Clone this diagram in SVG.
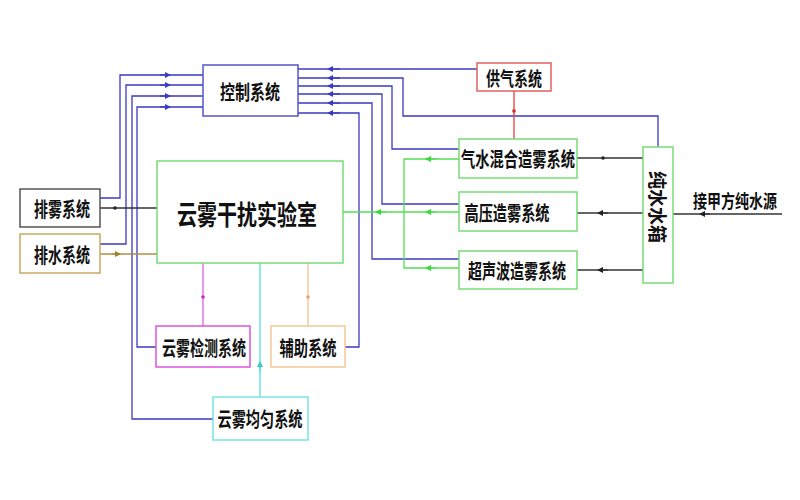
<svg xmlns="http://www.w3.org/2000/svg" width="800" height="500" viewBox="0 0 800 500">
<defs>
<marker id="ab" viewBox="0 0 6 6" refX="3" refY="3" markerWidth="6" markerHeight="6" orient="auto" markerUnits="userSpaceOnUse"><path d="M0,0 L6,3 L0,6 z" fill="#3a3ac0"/></marker>
<marker id="ag" viewBox="0 0 6 6" refX="3" refY="3" markerWidth="6" markerHeight="6" orient="auto" markerUnits="userSpaceOnUse"><path d="M0,0 L6,3 L0,6 z" fill="#33dd33"/></marker>
<marker id="ak" viewBox="0 0 6 6" refX="3" refY="3" markerWidth="6" markerHeight="6" orient="auto" markerUnits="userSpaceOnUse"><path d="M0,0 L6,3 L0,6 z" fill="#222"/></marker>
<marker id="at" viewBox="0 0 6 6" refX="3" refY="3" markerWidth="6" markerHeight="6" orient="auto" markerUnits="userSpaceOnUse"><path d="M0,0 L6,3 L0,6 z" fill="#a08030"/></marker>
<marker id="ac" viewBox="0 0 6 6" refX="3" refY="3" markerWidth="6" markerHeight="6" orient="auto" markerUnits="userSpaceOnUse"><path d="M0,0 L6,3 L0,6 z" fill="#33cccc"/></marker>
</defs>
<style>
text{font-family:"Noto Sans CJK SC","Noto Sans",sans-serif;font-weight:bold;fill:#111;text-anchor:middle;dominant-baseline:central}
.box{fill:#fff;stroke-width:1.5}
.bl{fill:none;stroke:#3a3ac0;stroke-width:1.3}
.gr{fill:none;stroke:#55dd55;stroke-width:1.3}
.bk{fill:none;stroke:#333;stroke-width:1.3}
</style>
<rect width="800" height="500" fill="#fff"/>
<g id="connectors">
<path class="bl" d="M100,198 H120 V75 H203" />
<path class="bl" d="M100,244 H126 V85 H203" />
<path class="bl" d="M213,419 H132 V96 H203" />
<path class="bl" d="M156,347 H137 V107 H203" />
<path class="bl" d="M160,75 H168" marker-end="url(#ab)"/>
<path class="bl" d="M160,85 H168" marker-end="url(#ab)"/>
<path class="bl" d="M160,96 H168" marker-end="url(#ab)"/>
<path class="bl" d="M160,107 H168" marker-end="url(#ab)"/>
<path class="bl" d="M477,69 H298" />
<path class="bl" d="M658,147 V116 H403 V78 H298" />
<path class="bl" d="M459,149 H392 V86 H298" />
<path class="bl" d="M459,204 H382 V94 H298" />
<path class="bl" d="M459,259 H372 V103 H298" />
<path class="bl" d="M345,347 H359 V113 H298" />
<path class="bl" d="M340,69 H330" marker-end="url(#ab)"/>
<path class="bl" d="M340,78 H330" marker-end="url(#ab)"/>
<path class="bl" d="M340,86 H330" marker-end="url(#ab)"/>
<path class="bl" d="M340,94 H330" marker-end="url(#ab)"/>
<path class="bl" d="M340,103 H330" marker-end="url(#ab)"/>
<path class="bl" d="M340,113 H330" marker-end="url(#ab)"/>
<path d="M514,91 V139" stroke="#e04040" stroke-width="1.3" fill="none"/>
<circle cx="514" cy="111" r="1.8" fill="#e02020"/>
<path class="gr" d="M459,159 H404 V268 H459" />
<path class="gr" d="M459,212 H343" />
<path class="gr" d="M436,159 H428" marker-end="url(#ag)"/>
<path class="gr" d="M436,212 H428" marker-end="url(#ag)"/>
<path class="gr" d="M436,268 H428" marker-end="url(#ag)"/>
<path class="gr" d="M386,212 H378" marker-end="url(#ag)"/>
<path class="bk" d="M643,158 H577" />
<path class="bk" d="M643,213 H577" />
<path class="bk" d="M643,270 H577" />
<circle cx="603" cy="158" r="1.8" fill="#222"/>
<path class="bk" d="M608,213 H600" marker-end="url(#ak)"/>
<path class="bk" d="M608,270 H600" marker-end="url(#ak)"/>
<path class="bk" d="M673,214 H782" />
<path class="bk" d="M710,214 H702" marker-end="url(#ak)"/>
<path class="bk" d="M100,208 H157" />
<circle cx="115" cy="208" r="1.8" fill="#222"/>
<path d="M100,254 H157" stroke="#b09040" stroke-width="1.3" fill="none"/>
<path d="M112,254 H118" stroke="#b09040" stroke-width="1.3" marker-end="url(#at)"/>
<path d="M203,263 V326" stroke="#e060e0" stroke-width="1.3" fill="none"/>
<circle cx="203" cy="297" r="1.8" fill="#d020d0"/>
<path d="M308,263 V326" stroke="#f5c090" stroke-width="1.3" fill="none"/>
<circle cx="308" cy="297" r="1.8" fill="#f0a060"/>
<path d="M260,263 V397" stroke="#55dddd" stroke-width="1.3" fill="none"/>
<path d="M260,372 V364" stroke="#55dddd" stroke-width="1.3" marker-end="url(#ac)"/>
</g>
<g id="control"><rect class="box" x="203" y="65" width="95" height="51" stroke="#5555cc"/><text x="250" y="91" font-size="20" textLength="60" lengthAdjust="spacingAndGlyphs">控制系统</text></g>
<g id="gas"><rect class="box" x="477" y="63" width="74" height="28" stroke="#e06060"/><text x="514" y="77" font-size="19" textLength="56" lengthAdjust="spacingAndGlyphs">供气系统</text></g>
<g id="mix"><rect class="box" x="459" y="139" width="118" height="39" stroke="#77dd77"/><text x="518" y="158" font-size="20" textLength="114" lengthAdjust="spacingAndGlyphs">气水混合造雾系统</text></g>
<g id="hp"><rect class="box" x="459" y="192" width="118" height="39" stroke="#77dd77"/><text x="507" y="212" font-size="20" textLength="85" lengthAdjust="spacingAndGlyphs">高压造雾系统</text></g>
<g id="us"><rect class="box" x="459" y="251" width="118" height="38" stroke="#77dd77"/><text x="517" y="270" font-size="20" textLength="98" lengthAdjust="spacingAndGlyphs">超声波造雾系统</text></g>
<g id="tank"><rect class="box" x="643" y="147" width="30" height="136" stroke="#77dd77"/><text x="0" y="0" font-size="19" transform="translate(658,207) rotate(90)" textLength="72" lengthAdjust="spacingAndGlyphs">纯水水箱</text></g>
<g id="source"><text x="735" y="200" font-size="15" textLength="84" lengthAdjust="spacingAndGlyphs" transform="translate(735,200) scale(1,1.25) translate(-735,-200)">接甲方纯水源</text></g>
<g id="lab"><rect class="box" x="157" y="161" width="186" height="102" stroke="#77dd77"/><text x="247" y="213" font-size="27" textLength="140" lengthAdjust="spacingAndGlyphs">云雾干扰实验室</text></g>
<g id="fog-exhaust"><rect class="box" x="20" y="189" width="80" height="38" stroke="#555"/><text x="62" y="208" font-size="20" textLength="56" lengthAdjust="spacingAndGlyphs">排雾系统</text></g>
<g id="drain"><rect class="box" x="20" y="234" width="80" height="39" stroke="#c8aa60"/><text x="62" y="254" font-size="20" textLength="56" lengthAdjust="spacingAndGlyphs">排水系统</text></g>
<g id="detect"><rect class="box" x="156" y="326" width="94" height="41" stroke="#dd55dd"/><text x="204" y="347" font-size="20" textLength="84" lengthAdjust="spacingAndGlyphs">云雾检测系统</text></g>
<g id="aux"><rect class="box" x="271" y="326" width="74" height="41" stroke="#f5c898"/><text x="308" y="347" font-size="20" textLength="57" lengthAdjust="spacingAndGlyphs">辅助系统</text></g>
<g id="uniform"><rect class="box" x="213" y="397" width="95" height="43" stroke="#77e5e5"/><text x="260" y="418" font-size="20" textLength="85" lengthAdjust="spacingAndGlyphs">云雾均匀系统</text></g>
</svg>
